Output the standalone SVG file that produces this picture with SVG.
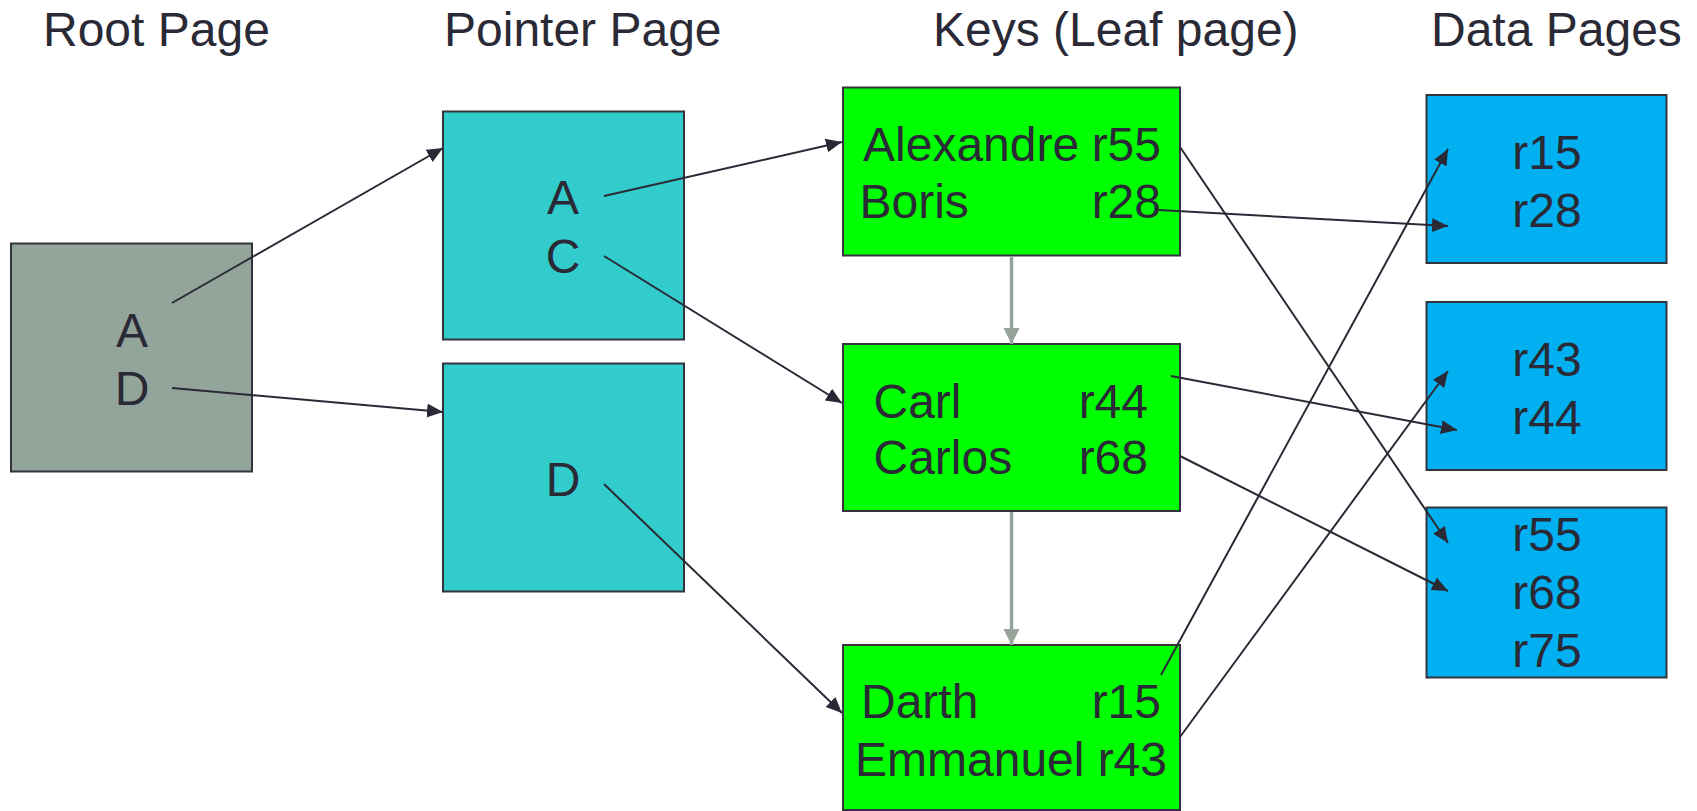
<svg xmlns="http://www.w3.org/2000/svg" width="1697" height="811" viewBox="0 0 1697 811">
  <style>
    text { font-family: "Liberation Sans", Arial, sans-serif; font-size: 48px; fill: #2a2a36; }
    .mid { text-anchor: middle; }
    .end { text-anchor: end; }
    .box { stroke: #34343e; stroke-width: 2; }
    .root { fill: #93a49a; }
    .ptr { fill: #33cccc; }
    .leaf { fill: #00ff00; }
    .data { fill: #00b0f0; }
    .link { stroke: #2a2a36; stroke-width: 2; fill: none; marker-end: url(#head); }
    .chain { stroke: #95a39b; stroke-width: 3.5; fill: none; marker-end: url(#grayhead); }
  </style>
  <defs>
    <marker id="head" markerUnits="userSpaceOnUse" markerWidth="18" markerHeight="16" refX="16" refY="7" orient="auto">
      <path d="M0,0 L16,7 L0,14 z" fill="#2a2a36"/>
    </marker>
    <marker id="grayhead" markerUnits="userSpaceOnUse" markerWidth="18" markerHeight="18" refX="16" refY="8" orient="auto">
      <path d="M0,0 L16,8 L0,16 z" fill="#95a39b"/>
    </marker>
  </defs>
  <rect width="1697" height="811" fill="#ffffff"/>

  <!-- column headings -->
  <g id="headings">
    <text x="43" y="45.5">Root Page</text>
    <text x="444" y="45.5">Pointer Page</text>
    <text x="933" y="45.5">Keys (Leaf page)</text>
    <text x="1431" y="45.5">Data Pages</text>
  </g>

  <!-- root page -->
  <g id="root-page">
    <rect class="box root" x="11" y="243.5" width="241" height="228"/>
    <text class="mid" x="132" y="347">A</text>
    <text class="mid" x="132" y="405">D</text>
  </g>

  <!-- pointer pages -->
  <g id="pointer-ac">
    <rect class="box ptr" x="443" y="111.5" width="241" height="228"/>
    <text class="mid" x="563" y="214">A</text>
    <text class="mid" x="563" y="273">C</text>
  </g>
  <g id="pointer-d">
    <rect class="box ptr" x="443" y="363.5" width="241" height="228"/>
    <text class="mid" x="563" y="496">D</text>
  </g>

  <!-- leaf pages -->
  <g id="leaf-1">
    <rect class="box leaf" x="843" y="87.5" width="337" height="168"/>
    <text x="863" y="161">Alexandre</text>
    <text class="end" x="1161" y="161">r55</text>
    <text x="859.5" y="218">Boris</text>
    <text class="end" x="1161" y="218">r28</text>
  </g>
  <g id="leaf-2">
    <rect class="box leaf" x="843" y="344" width="337" height="167"/>
    <text x="873.5" y="418">Carl</text>
    <text class="end" x="1148" y="418">r44</text>
    <text x="873.5" y="474">Carlos</text>
    <text class="end" x="1148" y="474">r68</text>
  </g>
  <g id="leaf-3">
    <rect class="box leaf" x="843" y="645" width="337" height="165"/>
    <text x="861" y="718">Darth</text>
    <text class="end" x="1161" y="718">r15</text>
    <text x="855" y="776">Emmanuel</text>
    <text class="end" x="1167" y="776">r43</text>
  </g>

  <!-- data pages -->
  <g id="data-1">
    <rect class="box data" x="1426.5" y="95" width="240" height="168"/>
    <text class="mid" x="1547" y="169">r15</text>
    <text class="mid" x="1547" y="226.5">r28</text>
  </g>
  <g id="data-2">
    <rect class="box data" x="1426.5" y="302" width="240" height="168"/>
    <text class="mid" x="1547" y="376">r43</text>
    <text class="mid" x="1547" y="434">r44</text>
  </g>
  <g id="data-3">
    <rect class="box data" x="1426.5" y="507.5" width="240" height="170"/>
    <text class="mid" x="1547" y="551">r55</text>
    <text class="mid" x="1547" y="609">r68</text>
    <text class="mid" x="1547" y="666.5">r75</text>
  </g>

  <!-- connectors -->
  <g id="connectors">
    <line class="chain" x1="1011.5" y1="256.5" x2="1011.5" y2="344"/>
    <line class="chain" x1="1011.5" y1="512" x2="1011.5" y2="645"/>

    <line class="link" x1="172" y1="303" x2="443" y2="148"/>
    <line class="link" x1="172" y1="388" x2="443" y2="412"/>
    <line class="link" x1="604" y1="196" x2="842" y2="142"/>
    <line class="link" x1="604" y1="256" x2="842" y2="403"/>
    <line class="link" x1="604" y1="484" x2="842" y2="713"/>

    <line class="link" x1="1159" y1="210" x2="1448" y2="226"/>
    <line class="link" x1="1180" y1="147" x2="1448" y2="543"/>
    <line class="link" x1="1171" y1="376" x2="1457" y2="430"/>
    <line class="link" x1="1180" y1="456" x2="1448" y2="591"/>
    <line class="link" x1="1161" y1="675" x2="1448" y2="149"/>
    <line class="link" x1="1180" y1="737" x2="1448" y2="371"/>
  </g>
</svg>
